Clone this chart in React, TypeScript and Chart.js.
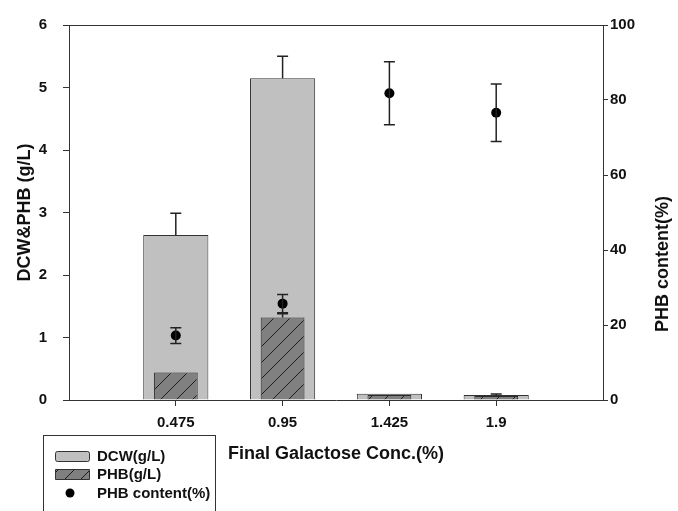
import React, { useEffect, useRef } from 'react';
import { Chart, registerables } from 'chart.js';

Chart.register(...registerables);

// ---- data ----
const concentrations = [0.475, 0.95, 1.425, 1.9];
const tickLabels = ['0.475', '0.95', '1.425', '1.9'];
const dcw = [2.64, 5.15, 0.1, 0.08];
const dcwErr = [0.35, 0.35, 0, 0];
const phb = [0.44, 1.32, 0.08, 0.065];
const phbErr = [0, 0.06, 0, 0.03];
const phbContent = [17.2, 25.7, 81.8, 76.6];
const phbContentErr = [2.1, 2.45, 8.4, 7.65];
const leftTicks = [0, 1, 2, 3, 4, 5, 6];
const rightTicks = [0, 20, 40, 60, 80, 100];
const xAxisMax = 2.375;

const xTitle = 'Final Galactose Conc.(%)';
const leftTitle = 'DCW&PHB (g/L)';
const rightTitle = 'PHB content(%)';

const FONT = "'Liberation Sans', Arial, Helvetica, sans-serif";
const AXIS_COLOR = '#333333';

function makeHatch(): CanvasPattern | string {
  const size = 16;
  const c = document.createElement('canvas');
  c.width = size;
  c.height = size;
  const g = c.getContext('2d');
  if (!g) return '#808080';
  g.fillStyle = '#808080';
  g.fillRect(0, 0, size, size);
  g.strokeStyle = '#1c1c1c';
  g.lineWidth = 1;
  g.beginPath();
  g.moveTo(0, size);
  g.lineTo(size, 0);
  g.moveTo(-size / 2, size / 2);
  g.lineTo(size / 2, -size / 2);
  g.moveTo(size / 2, size * 1.5);
  g.lineTo(size * 1.5, size / 2);
  g.stroke();
  return g.createPattern(c, 'repeat') || '#808080';
}

export default function App() {
  const ref = useRef<HTMLCanvasElement | null>(null);

  useEffect(() => {
    const canvas = ref.current;
    if (!canvas) return;
    const hatch = makeHatch();

    const decorPlugin = {
      id: 'decor',
      afterDatasetsDraw(chart: any) {
        const ctx = chart.ctx as CanvasRenderingContext2D;
        const xs = chart.scales.x;
        const ys = chart.scales.y;
        const y1 = chart.scales.y1;
        const cap = 5.5;
        ctx.save();
        ctx.strokeStyle = '#222';
        ctx.lineWidth = 1.5;
        const vline = (px: number, a: number, b: number, capA: boolean, capB: boolean) => {
          ctx.beginPath();
          ctx.moveTo(px, a);
          ctx.lineTo(px, b);
          if (capA) {
            ctx.moveTo(px - cap, a);
            ctx.lineTo(px + cap, a);
          }
          if (capB) {
            ctx.moveTo(px - cap, b);
            ctx.lineTo(px + cap, b);
          }
          ctx.stroke();
        };
        concentrations.forEach((c, i) => {
          const px = xs.getPixelForValue(c);
          if (dcwErr[i] > 0) {
            vline(px, ys.getPixelForValue(dcw[i]), ys.getPixelForValue(dcw[i] + dcwErr[i]), false, true);
          }
          if (phbErr[i] > 0) {
            vline(px, ys.getPixelForValue(phb[i]), ys.getPixelForValue(phb[i] + phbErr[i]), false, true);
          }
          if (phbContentErr[i] > 0) {
            vline(
              px,
              y1.getPixelForValue(phbContent[i] - phbContentErr[i]),
              y1.getPixelForValue(phbContent[i] + phbContentErr[i]),
              true,
              true
            );
          }
        });
        ctx.restore();
      },
      afterDraw(chart: any) {
        const ctx = chart.ctx as CanvasRenderingContext2D;
        const area = chart.chartArea;
        ctx.save();
        // top frame line
        ctx.strokeStyle = AXIS_COLOR;
        ctx.lineWidth = 1;
        ctx.beginPath();
        ctx.moveTo(area.left, area.top + 0.5);
        ctx.lineTo(area.right, area.top + 0.5);
        ctx.stroke();

        // y titles
        ctx.fillStyle = '#111';
        ctx.font = `bold 18px ${FONT}`;
        ctx.textAlign = 'center';
        ctx.textBaseline = 'middle';
        ctx.save();
        ctx.translate(25, (area.top + area.bottom) / 2);
        ctx.rotate(-Math.PI / 2);
        ctx.fillText(leftTitle, 0, 0);
        ctx.restore();
        ctx.save();
        ctx.translate(663, 264);
        ctx.rotate(-Math.PI / 2);
        ctx.fillText(rightTitle, 0, 0);
        ctx.restore();

        // legend
        const ds = chart.data.datasets;
        ctx.strokeStyle = AXIS_COLOR;
        ctx.lineWidth = 1;
        ctx.strokeRect(43.5, 435.5, 172, 90);
        ctx.font = `bold 15px ${FONT}`;
        ctx.textAlign = 'left';
        ctx.textBaseline = 'middle';
        // DCW
        ctx.fillStyle = '#c0c0c0';
        ctx.beginPath();
        (ctx as any).roundRect ? (ctx as any).roundRect(55.5, 451.5, 34, 10, 2) : ctx.rect(55.5, 451.5, 34, 10);
        ctx.fill();
        ctx.stroke();
        ctx.fillStyle = '#111';
        ctx.fillText(ds[2].label, 97, 457);
        // PHB
        ctx.fillStyle = hatch as any;
        ctx.beginPath();
        ctx.rect(55.5, 469.5, 34, 10);
        ctx.fill();
        ctx.stroke();
        ctx.fillStyle = '#111';
        ctx.fillText(ds[1].label, 97, 475);
        // content
        ctx.fillStyle = '#000';
        ctx.beginPath();
        ctx.arc(70, 493, 4.5, 0, Math.PI * 2);
        ctx.fill();
        ctx.fillStyle = '#111';
        ctx.fillText(ds[0].label, 97, 494);
        ctx.restore();
      },
    };

    const chart = new Chart(canvas, {
      type: 'bar',
      data: {
        datasets: [
          {
            type: 'line',
            label: 'PHB content(%)',
            data: concentrations.map((c, i) => ({ x: c, y: phbContent[i] })),
            yAxisID: 'y1',
            showLine: false,
            pointRadius: 5,
            pointHoverRadius: 5,
            pointBackgroundColor: '#000',
            pointBorderColor: '#000',
            pointBorderWidth: 0,
            order: 0,
          } as any,
          {
            label: 'PHB(g/L)',
            data: concentrations.map((c, i) => ({ x: c, y: phb[i] })),
            yAxisID: 'y',
            backgroundColor: hatch as any,
            borderColor: '#2a2a2a',
            borderWidth: 1,
            grouped: false,
            categoryPercentage: 1,
            barPercentage: 0.41,
            order: 1,
          },
          {
            label: 'DCW(g/L)',
            data: concentrations.map((c, i) => ({ x: c, y: dcw[i] })),
            yAxisID: 'y',
            backgroundColor: '#c0c0c0',
            borderColor: '#333',
            borderWidth: 1,
            grouped: false,
            categoryPercentage: 1,
            barPercentage: 0.61,
            order: 2,
          },
        ],
      },
      options: {
        animation: false,
        responsive: false,
        devicePixelRatio: 1,
        layout: { padding: { top: 17, left: 0, right: 0, bottom: 0 } },
        plugins: {
          legend: { display: false },
          tooltip: { enabled: false },
        },
        scales: {
          x: {
            type: 'linear',
            min: 0,
            max: xAxisMax,
            offset: false,
            afterBuildTicks: (s: any) => {
              s.ticks = concentrations.map((v) => ({ value: v }));
            },
            afterFit: (s: any) => {
              s.height = 111;
            },
            grid: {
              display: true,
              drawOnChartArea: false,
              drawTicks: true,
              tickLength: 6,
              color: AXIS_COLOR,
              offset: false,
            },
            border: { display: true, color: AXIS_COLOR, width: 1 },
            ticks: {
              autoSkip: false,
              maxRotation: 0,
              padding: 8,
              color: '#111',
              font: { family: FONT, size: 15, weight: 'bold' },
              callback: (_v: any, i: number) => tickLabels[i],
            },
            title: {
              display: true,
              text: xTitle,
              color: '#111',
              font: { family: FONT, size: 18, weight: 'bold' },
              padding: { top: 0, bottom: 46 },
            },
          },
          y: {
            type: 'linear',
            position: 'left',
            min: 0,
            max: 6,
            afterBuildTicks: (s: any) => {
              s.ticks = leftTicks.map((v) => ({ value: v }));
            },
            afterFit: (s: any) => {
              s.width = 69;
            },
            grid: {
              display: true,
              drawOnChartArea: false,
              drawTicks: true,
              tickLength: 6,
              color: AXIS_COLOR,
            },
            border: { display: true, color: AXIS_COLOR, width: 1 },
            ticks: {
              padding: 16,
              color: '#111',
              font: { family: FONT, size: 15, weight: 'bold' },
            },
          },
          y1: {
            type: 'linear',
            position: 'right',
            min: 0,
            max: 100,
            afterBuildTicks: (s: any) => {
              s.ticks = rightTicks.map((v) => ({ value: v }));
            },
            afterFit: (s: any) => {
              s.width = 75;
            },
            grid: {
              display: true,
              drawOnChartArea: false,
              drawTicks: true,
              tickLength: 5,
              color: AXIS_COLOR,
            },
            border: { display: true, color: AXIS_COLOR, width: 1 },
            ticks: {
              padding: 2,
              color: '#111',
              font: { family: FONT, size: 15, weight: 'bold' },
            },
          },
        },
      } as any,
      plugins: [decorPlugin],
    });

    return () => {
      chart.destroy();
    };
  }, []);

  return (
    <div style={{ position: 'absolute', left: 0, top: 0, width: 678, height: 511, background: '#fff' }}>
      <canvas ref={ref} width={678} height={511} style={{ display: 'block', width: 678, height: 511 }} />
    </div>
  );
}
